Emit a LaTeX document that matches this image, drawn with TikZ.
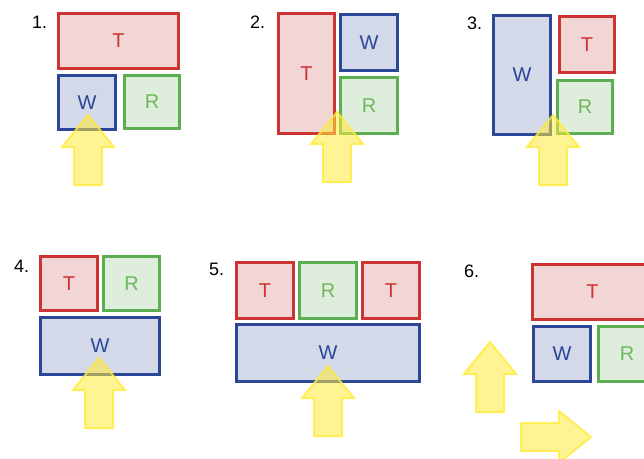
\documentclass[tikz,border=0pt]{standalone}
\usepackage{fontspec}
\setmainfont{Liberation Sans}
\begin{document}
\definecolor{tred}{HTML}{CC3333}
\definecolor{tfill}{HTML}{F2D5D5}
\definecolor{wblue}{HTML}{2B4796}
\definecolor{wfill}{HTML}{D3D9E8}
\definecolor{rgreen}{HTML}{5BAF50}
\definecolor{rtext}{HTML}{6DB85F}
\definecolor{rfill}{HTML}{DEEDDC}
\definecolor{hlyellow}{HTML}{FFEB3B}
\begin{tikzpicture}[x=1pt,y=-1pt,
  box/.style={draw, line width=2.8pt, inner sep=0pt, font=\fontsize{20}{20}\selectfont},
  tbox/.style={box, draw=tred, fill=tfill, text=tred},
  wbox/.style={box, draw=wblue, fill=wfill, text=wblue},
  rbox/.style={box, draw=rgreen, fill=rfill, text=rtext},
  num/.style={anchor=base west, inner sep=0pt, font=\fontsize{18}{18}\selectfont},
  hl/.style={draw=hlyellow, draw opacity=0.8, fill=hlyellow, fill opacity=0.55, line width=2pt, line join=miter},
  hlarrow/.pic={\path[hl] (0,0) -- (26,32) -- (14,32) -- (14,70) -- (-14,70) -- (-14,32) -- (-26,32) -- cycle;}
]
\useasboundingbox (0,0) rectangle (644,458);
\clip (0,0) rectangle (644,458);

% 1.
\node[num] (n1) at (32,28.5) {1.};
\node[tbox, minimum width=120pt, minimum height=55pt] (t1) at (118.5,41) {T};
\node[wbox, minimum width=57pt, minimum height=54pt] (w1) at (87,102.5) {W};
\node[rbox, minimum width=55pt, minimum height=53pt] (r1) at (152,102) {R};
\pic at (88,115) {hlarrow};

% 2.
\node[num] (n2) at (250,28) {2.};
\node[tbox, minimum width=56pt, minimum height=120pt] (t2) at (306.5,73.5) {T};
\node[wbox, minimum width=57pt, minimum height=56pt] (w2) at (369,42.5) {W};
\node[rbox, minimum width=57pt, minimum height=56pt] (r2) at (369,105.5) {R};
\pic at (337,112) {hlarrow};

% 3.
\node[num] (n3) at (467,29) {3.};
\node[wbox, minimum width=57pt, minimum height=119pt] (w3) at (522,75) {W};
\node[tbox, minimum width=55pt, minimum height=56pt] (t3) at (587,44.5) {T};
\node[rbox, minimum width=55pt, minimum height=53pt] (r3) at (585,107) {R};
\pic at (553,115) {hlarrow};

% 4.
\node[num] (n4) at (14,272) {4.};
\node[tbox, minimum width=57pt, minimum height=54pt] (t4) at (69,283.5) {T};
\node[rbox, minimum width=56pt, minimum height=54pt] (r4) at (131.5,283.5) {R};
\node[wbox, minimum width=119pt, minimum height=57pt] (w4) at (100,346) {W};
\pic at (99,358) {hlarrow};

% 5.
\node[num] (n5) at (209,275) {5.};
\node[tbox, minimum width=57pt, minimum height=56pt] (t5a) at (265,290.5) {T};
\node[rbox, minimum width=57pt, minimum height=56pt] (r5) at (328,290.5) {R};
\node[tbox, minimum width=57pt, minimum height=56pt] (t5b) at (391,290.5) {T};
\node[wbox, minimum width=183pt, minimum height=57pt] (w5) at (328,353) {W};
\pic at (328,366) {hlarrow};

% 6.
\node[num] (n6) at (464,277) {6.};
\node[tbox, minimum width=120pt, minimum height=55pt] (t6) at (592.5,292) {T};
\node[wbox, minimum width=57pt, minimum height=55pt] (w6) at (562,354) {W};
\node[rbox, minimum width=57pt, minimum height=55pt] (r6) at (627,354) {R};
\pic at (490,342) {hlarrow};
\pic[rotate=-90] at (591,437) {hlarrow};
\end{tikzpicture}
\end{document}
